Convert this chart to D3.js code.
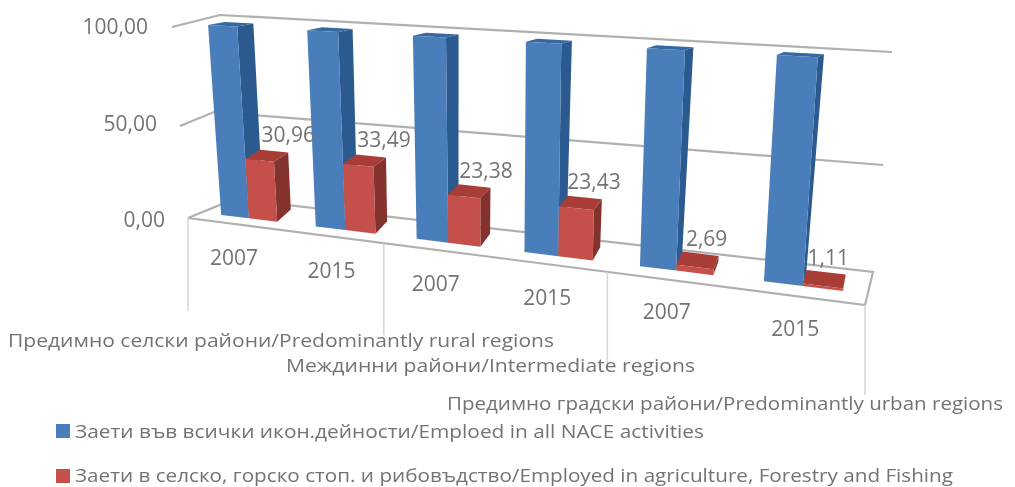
<!DOCTYPE html>
<html><head><meta charset="utf-8">
<script src="https://cdnjs.cloudflare.com/ajax/libs/d3/7.8.5/d3.min.js"></script>
<style>html,body{margin:0;padding:0;background:#fff}svg{display:block}text{font-family:"Open Sans",Lato,sans-serif;fill:#737373}</style>
</head><body><svg id="c" width="1015" height="487"></svg>
<script>
const years = ["2007","2015","2007","2015","2007","2015"];
const regions = ["Предимно селски райони/Predominantly rural regions","Междинни райони/Intermediate regions","Предимно градски райони/Predominantly urban regions"];
const seriesNames = ["Заети във всички икон.дейности/Emploed in all NACE activities","Заети в селско, горско стоп. и рибовъдство/Employed in agriculture, Forestry and Fishing"];
const allActivities = [100,100,100,100,100,100];
const agriculture = [30.96,33.49,23.38,23.43,2.69,1.11];
const yTicks = [0,50,100];
const labelText = ["30,96","33,49","23,38","23,43","2,69","1,11"];
const yTickText = ["0,00","50,00","100,00"];

const svg = d3.select("#c");
const blur = svg.append("defs").append("filter").attr("id","b").attr("filterUnits","userSpaceOnUse").attr("x",0).attr("y",0).attr("width",1015).attr("height",487);
blur.append("feGaussianBlur").attr("stdDeviation",0.7);
const root = svg.append("g").attr("filter","url(#b)");

const slot = d3.scaleLinear().domain([0,6]).range([0,1]);
const warp = u => 0.814*u/(1-0.186*u);
const along = s => warp(slot(s));
const yFrac = d3.scaleLinear().domain([0,100]).range([0,1]);
const lerp = d3.interpolateNumber;
const box = {
  front:{base:[[203,212.7],[870,294.3]],top:[[189,24],[888,61]]},
  back:{base:[[218,200.7],[872,280.3]],top:[[206,21],[893,58]]}
};
function edge(seg,t){return [lerp(seg[0][0],seg[1][0])(t),lerp(seg[0][1],seg[1][1])(t)];}
function project(s,d,v){
  const t=along(s), f=yFrac(v);
  const pl=(k)=>{const a=edge(box[k].base,t),b=edge(box[k].top,t);return [lerp(a[0],b[0])(f),lerp(a[1],b[1])(f)];};
  const a=pl("front"),b=pl("back");
  return [lerp(a[0],b[0])(d),lerp(a[1],b[1])(d)];
}
const frame = {
  floorFront:[[188,218],[865,305]], floorSide:[[222,204],[226,198]], floorBack:[[873,272]],
  wall50:[[180,126],[214,112],[883,165]], wall100:[[172,27],[220,15],[892,52]]
};
const line=d3.line();
const gridG=root.append("g").attr("fill","none").attr("stroke","#b0b0b0").attr("stroke-width",2.2);
gridG.append("path").attr("d",line([frame.floorFront[0],...frame.floorSide,...frame.floorBack,frame.floorFront[1],frame.floorFront[0]]));
gridG.append("path").attr("d",line(frame.wall50));
gridG.append("path").attr("d",line(frame.wall100));
const groupEdges=[0,2,4,6];
const sepLen=[93,92,93,90];
root.append("g").selectAll("line").data(groupEdges).join("line")
 .attr("stroke","#d6d6d6").attr("stroke-width",1.5)
 .attr("x1",g=>edge(frame.floorFront,along(g))[0]).attr("x2",g=>edge(frame.floorFront,along(g))[0])
 .attr("y1",g=>edge(frame.floorFront,along(g))[1]).attr("y2",(g,i)=>edge(frame.floorFront,along(g))[1]+sepLen[i]);

const gap=0.2,w=0.3;
function bar(g,i,x0,val,c){
  const s0=i+x0,s1=i+x0+w,p=project;
  const poly=pts=>g.append("polygon").attr("points",pts.map(q=>q.join(",")).join(" "));
  poly([p(s1,0,0),p(s1,1,0),p(s1,1,val),p(s1,0,val)]).attr("fill",c.side);
  poly([p(s0,0,val),p(s1,0,val),p(s1,1,val),p(s0,1,val)]).attr("fill",c.top);
  poly([p(s0,0,0),p(s1,0,0),p(s1,0,val),p(s0,0,val)]).attr("fill",c.front);
}
const bars=root.append("g");
const blue={front:"#4a7ebb",side:"#2c5a8f",top:"#34689f"},red={front:"#c4504c",side:"#84302e",top:"#a83c39"};
allActivities.forEach((v,i)=>{bar(bars.append("g"),i,gap,v,blue);});
agriculture.forEach((v,i)=>{bar(bars.append("g"),i,gap+w,v,red);});

const txt=(x,y,s,size,anchor,len)=>{
  const t=root.append("text").attr("x",x).attr("y",y).attr("font-size",size).attr("text-anchor",anchor||"start").attr("dominant-baseline","central").text(s);
  if(len) t.attr("textLength",len).attr("lengthAdjust","spacingAndGlyphs");
  return t;
};
const yLabelX=d3.scaleLinear().domain([0,50,100]).range([165,157,148]);
const yLabelY=d3.scaleLinear().domain([0,100]).range([219,26]);
yTicks.forEach((v,i)=>txt(yLabelX(v),yLabelY(v),yTickText[i],21,"end"));
agriculture.forEach((v,i)=>{
  const q=project(i+gap+2*w,1,v);
  const t=along(i);
  txt(q[0]-12*t-12*t*t,q[1]-18,labelText[i],21,"middle");
});
years.forEach((y,i)=>{
  const q=project(i+gap+w,0,0);
  const t=along(i);
  txt(q[0]-15+9*t,q[1]+39+3*t,y,21,"middle");
});
const regionPos=[[8,339,546],[286,364,409],[447,402,556]];
regions.forEach((r,i)=>txt(regionPos[i][0],regionPos[i][1],r,18.4,"start",regionPos[i][2]));
const legendY=[431,476],legendTextY=[430.5,474.5],legendLen=[629,878],legendCol=[blue.front,red.front];
seriesNames.forEach((n,i)=>{
  root.append("rect").attr("x",56).attr("y",legendY[i]-7).attr("width",14).attr("height",14).attr("fill",legendCol[i]);
  txt(75,legendTextY[i],n,18.4,"start",legendLen[i]);
});
</script></body></html>
